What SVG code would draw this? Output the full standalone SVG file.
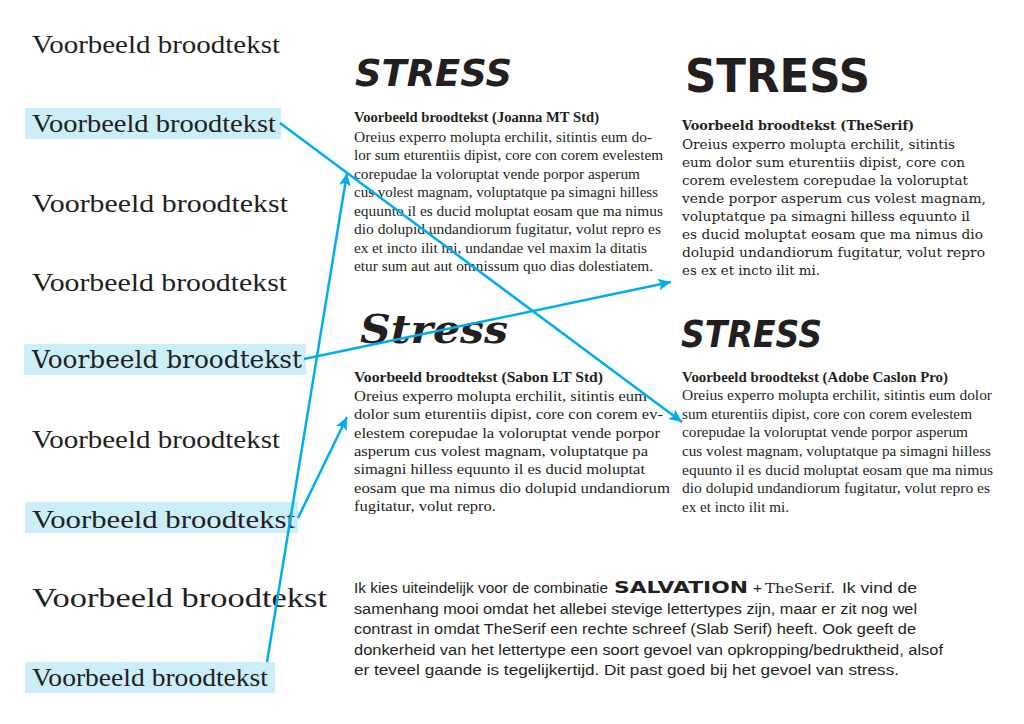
<svg xmlns="http://www.w3.org/2000/svg" width="1024" height="724" viewBox="0 0 1024 724">
<defs>
<style>
.lbl{font-family:"Liberation Serif",serif;font-size:26px;fill:#231f20}
.hl{fill:#cbeef9}
.ser{font-family:"Liberation Serif",serif;font-size:14.8px;fill:#231f20}
.serb{font-family:"Liberation Serif",serif;font-size:14.5px;font-weight:bold;fill:#231f20}
.slab{font-family:"DejaVu Serif",serif;font-size:12.8px;fill:#231f20}
.slabb{font-family:"DejaVu Serif",serif;font-size:12.8px;font-weight:bold;fill:#231f20}
.sans{font-family:"Liberation Sans",Arial,sans-serif;font-size:15.3px;fill:#231f20}
.head{font-family:"DejaVu Sans",sans-serif;font-weight:bold;fill:#231f20}
.conn{stroke:#00aeef;stroke-width:2.5;fill:none;marker-end:url(#ah)}
</style>
<marker id="ah" markerUnits="userSpaceOnUse" markerWidth="14" markerHeight="12" refX="13" refY="6" orient="auto">
<path d="M0,0 L13,6 L0,12 L3,6 Z" fill="#00aeef"/>
</marker>
</defs>
<rect width="1024" height="724" fill="#ffffff"/>

<g id="label-1"><text class="lbl" x="32" y="53" textLength="248" lengthAdjust="spacingAndGlyphs">Voorbeeld broodtekst</text></g>
<g id="label-2"><rect class="hl" x="25" y="108" width="256" height="31"/><text class="lbl" x="32" y="132" textLength="244" lengthAdjust="spacingAndGlyphs">Voorbeeld broodtekst</text></g>
<g id="label-3"><text class="lbl" x="32" y="212" textLength="256" lengthAdjust="spacingAndGlyphs" style="font-weight:300">Voorbeeld broodtekst</text></g>
<g id="label-4"><text class="lbl" x="32" y="291" textLength="255" lengthAdjust="spacingAndGlyphs">Voorbeeld broodtekst</text></g>
<g id="label-5"><rect class="hl" x="24" y="344" width="282" height="31"/><text x="32" y="368" textLength="270" lengthAdjust="spacingAndGlyphs" style="font-family:'DejaVu Serif',serif;font-size:24px;fill:#231f20">Voorbeeld broodtekst</text></g>
<g id="label-6"><text class="lbl" x="32" y="448" textLength="248" lengthAdjust="spacingAndGlyphs">Voorbeeld broodtekst</text></g>
<g id="label-7"><rect class="hl" x="25" y="502" width="273" height="31"/><text class="lbl" x="32" y="528" textLength="263" lengthAdjust="spacingAndGlyphs">Voorbeeld broodtekst</text></g>
<g id="label-8"><text class="lbl" x="32" y="607" textLength="295" lengthAdjust="spacingAndGlyphs" style="font-size:28px">Voorbeeld broodtekst</text></g>
<g id="label-9"><rect class="hl" x="25" y="662" width="250" height="31"/><text class="lbl" x="32" y="686" textLength="236" lengthAdjust="spacingAndGlyphs">Voorbeeld broodtekst</text></g>

<g id="block-joanna">
<text class="head" x="355" y="86" font-size="38" font-style="italic" textLength="157" lengthAdjust="spacingAndGlyphs">STRESS</text>
<text class="serb" x="354" y="122" textLength="245" lengthAdjust="spacingAndGlyphs">Voorbeeld broodtekst (Joanna MT Std)</text>
<text class="ser" x="354" y="142" textLength="298" lengthAdjust="spacingAndGlyphs">Oreius experro molupta erchilit, sitintis eum do-</text>
<text class="ser" x="354" y="160" textLength="309" lengthAdjust="spacingAndGlyphs">lor sum eturentiis dipist, core con corem evelestem</text>
<text class="ser" x="354" y="179" textLength="286" lengthAdjust="spacingAndGlyphs">corepudae la voloruptat vende porpor asperum</text>
<text class="ser" x="354" y="197" textLength="304" lengthAdjust="spacingAndGlyphs">cus volest magnam, voluptatque pa simagni hilless</text>
<text class="ser" x="354" y="216" textLength="309" lengthAdjust="spacingAndGlyphs">equunto il es ducid moluptat eosam que ma nimus</text>
<text class="ser" x="354" y="234" textLength="307" lengthAdjust="spacingAndGlyphs">dio dolupid undandiorum fugitatur, volut repro es</text>
<text class="ser" x="354" y="253" textLength="293" lengthAdjust="spacingAndGlyphs">ex et incto ilit mi, undandae vel maxim la ditatis</text>
<text class="ser" x="354" y="271" textLength="299" lengthAdjust="spacingAndGlyphs">etur sum aut aut omnissum quo dias dolestiatem.</text>
</g>

<g id="block-theserif">
<text class="head" x="685" y="92" font-size="46" textLength="185" lengthAdjust="spacingAndGlyphs" style="font-weight:900">STRESS</text>
<text class="slabb" x="682" y="130" textLength="232" lengthAdjust="spacingAndGlyphs">Voorbeeld broodtekst (TheSerif)</text>
<text class="slab" x="682" y="149" textLength="273" lengthAdjust="spacingAndGlyphs">Oreius experro molupta erchilit, sitintis</text>
<text class="slab" x="682" y="167" textLength="283" lengthAdjust="spacingAndGlyphs">eum dolor sum eturentiis dipist, core con</text>
<text class="slab" x="682" y="185" textLength="286" lengthAdjust="spacingAndGlyphs">corem evelestem corepudae la voloruptat</text>
<text class="slab" x="682" y="203" textLength="304" lengthAdjust="spacingAndGlyphs">vende porpor asperum cus volest magnam,</text>
<text class="slab" x="682" y="221" textLength="288" lengthAdjust="spacingAndGlyphs">voluptatque pa simagni hilless equunto il</text>
<text class="slab" x="682" y="239" textLength="301" lengthAdjust="spacingAndGlyphs">es ducid moluptat eosam que ma nimus dio</text>
<text class="slab" x="682" y="257" textLength="303" lengthAdjust="spacingAndGlyphs">dolupid undandiorum fugitatur, volut repro</text>
<text class="slab" x="682" y="275" textLength="138" lengthAdjust="spacingAndGlyphs">es ex et incto ilit mi.</text>
</g>

<g id="block-sabon">
<text x="360" y="343" textLength="148" lengthAdjust="spacingAndGlyphs" style="font-family:'DejaVu Serif',serif;font-size:40px;font-weight:bold;font-style:italic;fill:#231f20">Stress</text>
<text class="serb" x="354" y="382" textLength="249" lengthAdjust="spacingAndGlyphs">Voorbeeld broodtekst (Sabon LT Std)</text>
<text class="ser" x="354" y="401" textLength="293" lengthAdjust="spacingAndGlyphs">Oreius experro molupta erchilit, sitintis eum</text>
<text class="ser" x="354" y="419" textLength="309" lengthAdjust="spacingAndGlyphs">dolor sum eturentiis dipist, core con corem ev-</text>
<text class="ser" x="354" y="438" textLength="306" lengthAdjust="spacingAndGlyphs">elestem corepudae la voloruptat vende porpor</text>
<text class="ser" x="354" y="456" textLength="294" lengthAdjust="spacingAndGlyphs">asperum cus volest magnam, voluptatque pa</text>
<text class="ser" x="354" y="474" textLength="291" lengthAdjust="spacingAndGlyphs">simagni hilless equunto il es ducid moluptat</text>
<text class="ser" x="354" y="493" textLength="316" lengthAdjust="spacingAndGlyphs">eosam que ma nimus dio dolupid undandiorum</text>
<text class="ser" x="354" y="511" textLength="142" lengthAdjust="spacingAndGlyphs">fugitatur, volut repro.</text>
</g>

<g id="block-caslon">
<text class="head" x="681" y="347" font-size="37" font-style="italic" textLength="141" lengthAdjust="spacingAndGlyphs">STRESS</text>
<text class="serb" x="682" y="382" textLength="266" lengthAdjust="spacingAndGlyphs">Voorbeeld broodtekst (Adobe Caslon Pro)</text>
<text class="ser" x="682" y="400" textLength="310" lengthAdjust="spacingAndGlyphs">Oreius experro molupta erchilit, sitintis eum dolor</text>
<text class="ser" x="682" y="419" textLength="290" lengthAdjust="spacingAndGlyphs">sum eturentiis dipist, core con corem evelestem</text>
<text class="ser" x="682" y="437" textLength="286" lengthAdjust="spacingAndGlyphs">corepudae la voloruptat vende porpor asperum</text>
<text class="ser" x="682" y="456" textLength="309" lengthAdjust="spacingAndGlyphs">cus volest magnam, voluptatque pa simagni hilless</text>
<text class="ser" x="682" y="475" textLength="311" lengthAdjust="spacingAndGlyphs">equunto il es ducid moluptat eosam que ma nimus</text>
<text class="ser" x="682" y="493" textLength="308" lengthAdjust="spacingAndGlyphs">dio dolupid undandiorum fugitatur, volut repro es</text>
<text class="ser" x="682" y="512" textLength="107" lengthAdjust="spacingAndGlyphs">ex et incto ilit mi.</text>
</g>

<g id="conclusion">
<text class="sans" x="354" y="593" textLength="254" lengthAdjust="spacingAndGlyphs">Ik kies uiteindelijk voor de combinatie</text>
<text class="head" x="614" y="593" font-size="15" textLength="134" lengthAdjust="spacingAndGlyphs" style="font-weight:900">SALVATION</text>
<text class="sans" x="753" y="593">+</text>
<text x="765" y="593" textLength="70" style="font-family:'DejaVu Serif',serif;font-size:13.5px;fill:#231f20" lengthAdjust="spacingAndGlyphs">TheSerif.</text>
<text class="sans" x="842" y="593" textLength="75" lengthAdjust="spacingAndGlyphs">Ik vind de</text>
<text class="sans" x="354" y="614" textLength="563" lengthAdjust="spacingAndGlyphs">samenhang mooi omdat het allebei stevige lettertypes zijn, maar er zit nog wel</text>
<text class="sans" x="354" y="634" textLength="562" lengthAdjust="spacingAndGlyphs">contrast in omdat TheSerif een rechte schreef (Slab Serif) heeft. Ook geeft de</text>
<text class="sans" x="354" y="655" textLength="589" lengthAdjust="spacingAndGlyphs">donkerheid van het lettertype een soort gevoel van opkropping/bedruktheid, alsof</text>
<text class="sans" x="354" y="675" textLength="545" lengthAdjust="spacingAndGlyphs">er teveel gaande is tegelijkertijd. Dit past goed bij het gevoel van stress.</text>
</g>

<g id="connectors">
<line class="conn" x1="280" y1="123" x2="682" y2="422"/>
<line class="conn" x1="267" y1="662" x2="347" y2="173"/>
<line class="conn" x1="304" y1="359" x2="671" y2="282"/>
<line class="conn" x1="298" y1="518" x2="347" y2="417"/>
</g>
</svg>
